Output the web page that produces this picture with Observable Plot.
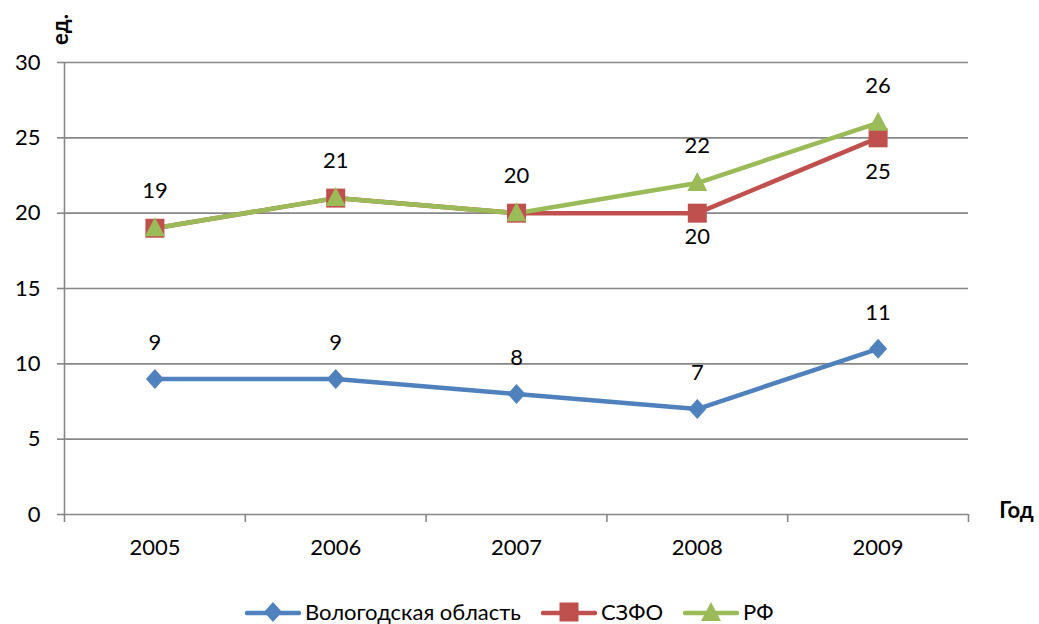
<!DOCTYPE html>
<html><head><meta charset="utf-8">
<script src="https://cdn.jsdelivr.net/npm/d3@7"></script>
<script src="https://cdn.jsdelivr.net/npm/@observablehq/plot@0.6"></script>
<style>
body{margin:0;background:#fff;font-family:Lato,"Open Sans",sans-serif}
#wrap{position:relative;width:1039px;height:624px;overflow:hidden}
#legend{position:absolute;left:245px;top:601px;height:22px;display:flex;align-items:center;font-size:22px;line-height:22px;color:#000;white-space:nowrap}
#legend .item{display:flex;align-items:center;margin-right:20px}
#legend svg{margin-right:4px}
</style></head><body><div id="wrap"><div id="legend"></div></div>
<script>
const years=[2005,2006,2007,2008,2009];
const vologda=[9,9,8,7,11];
const szfo=[19,21,20,20,25];
const rf=[19,21,20,22,26];
const yTicks=[0,5,10,15,20,25,30];
const seriesNames=["Вологодская область","СЗФО","РФ"];
const colors=["#4F81BD","#C0504D","#9BBB59"];
const xBounds=[2004.5,2005.5,2006.5,2007.5,2008.5,2009.5];

const diamond={draw(c){c.moveTo(0,-10);c.lineTo(9,0);c.lineTo(0,10);c.lineTo(-9,0);c.closePath();}};
const square={draw(c){c.moveTo(-9.5,-9.5);c.lineTo(9.5,-9.5);c.lineTo(9.5,9.5);c.lineTo(-9.5,9.5);c.closePath();}};
const triangle={draw(c){c.moveTo(0,-11);c.lineTo(10,8);c.lineTo(-10,8);c.closePath();}};
const symbols=[diamond,square,triangle];

const series=[vologda,szfo,rf];
const rows=[];
series.forEach((vals,i)=>years.forEach((y,j)=>rows.push({name:seriesNames[i],year:y,value:vals[j],idx:i})));
const byName=n=>rows.filter(r=>r.name===n);

const gray="#878787";
const marks=[
  Plot.ruleY(yTicks,{stroke:gray,strokeWidth:1.6}),
  Plot.axisY(yTicks,{tickSize:7,tickPadding:17,stroke:gray,strokeWidth:1.6,label:null}),
  Plot.ruleX([xBounds[0]],{stroke:gray,strokeWidth:1.6}),
  Plot.axisX(xBounds,{tickSize:8,tickFormat:()=>"",stroke:gray,strokeWidth:1.6,label:null}),
  Plot.axisX(years,{tickSize:0,tickPadding:25,tickFormat:d=>String(d),label:null}),
];
[0,1,2].forEach(i=>{
  const data=byName(seriesNames[i]);
  marks.push(Plot.line(data,{x:"year",y:"value",stroke:colors[i],strokeWidth:4.5}));
});
[0,1,2].forEach(i=>{
  const data=byName(seriesNames[i]);
  marks.push(Plot.dot(data,{x:"year",y:"value",fill:colors[i],stroke:"none",symbol:symbols[i],r:10}));
});
// data labels
marks.push(Plot.text(byName(seriesNames[0]),{x:"year",y:"value",text:d=>String(d.value),dy:-36,fill:"#000"}));
marks.push(Plot.text(byName(seriesNames[2]),{x:"year",y:"value",text:d=>String(d.value),dy:-37,fill:"#000"}));
const szfoOnly=byName(seriesNames[1]).filter((d,j)=>d.value!==rf[j]);
marks.push(Plot.text(szfoOnly,{x:"year",y:"value",text:d=>String(d.value),dy:24,fill:"#000",filter:d=>d.year===2008}));
marks.push(Plot.text(szfoOnly,{x:"year",y:"value",text:d=>String(d.value),dy:34,fill:"#000",filter:d=>d.year===2009}));
marks.push(Plot.text(["ед."],{frameAnchor:"top-left",dx:-4,dy:-33,rotate:-90,textAnchor:"middle",lineAnchor:"middle",fontWeight:"bold",text:d=>d}));
marks.push(Plot.text(["Год"],{frameAnchor:"bottom-right",dx:48,dy:-4,textAnchor:"middle",lineAnchor:"middle",fontWeight:"bold",text:d=>d}));

const chart=Plot.plot({
  width:1039,height:624,
  marginLeft:64,marginRight:71,marginTop:62,marginBottom:110,
  x:{domain:[xBounds[0],xBounds[xBounds.length-1]],axis:null},
  y:{domain:[0,30],axis:null},
  style:{fontFamily:'Lato,"Open Sans",sans-serif',fontSize:"22px",color:"#000",background:"#fff",overflow:"visible"},
  marks
});
const wrap=document.getElementById("wrap");
wrap.insertBefore(chart,wrap.firstChild);

const legend=document.getElementById("legend");
const shapes=[
  '<path d="M28,-10 L37,0 L28,10 L19,0 Z" transform="translate(0,11)"/>',
  '<rect x="18.5" y="1.5" width="19" height="19"/>',
  '<path d="M28,1 L38,20 L18,20 Z"/>'
];
seriesNames.forEach((n,i)=>{
  const it=document.createElement("div");it.className="item";
  it.innerHTML=`<svg width="56" height="22"><line x1="2" x2="54" y1="12" y2="12" stroke="${colors[i]}" stroke-width="4.5" stroke-linecap="round"/><g fill="${colors[i]}">${shapes[i]}</g></svg><span>${n}</span>`;
  legend.appendChild(it);
});
</script></body></html>
